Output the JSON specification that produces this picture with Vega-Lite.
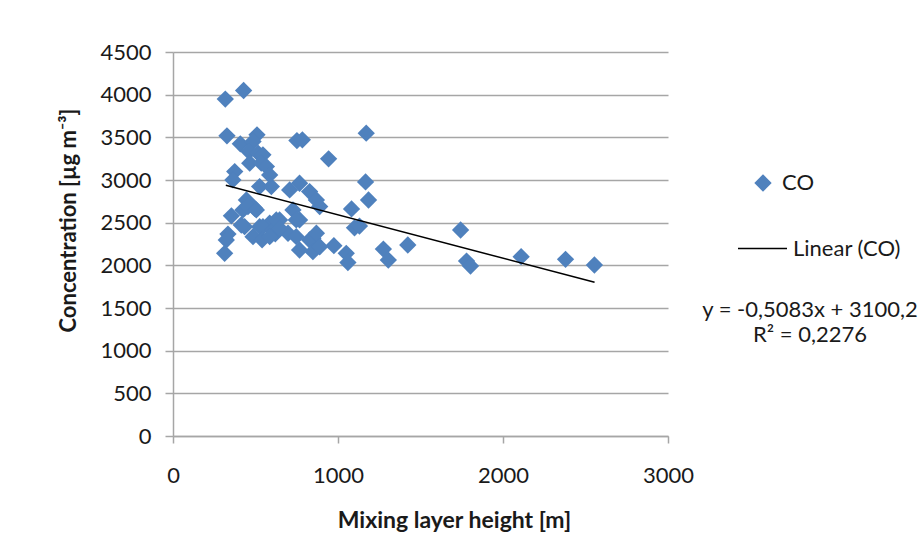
{
  "$schema": "https://vega.github.io/schema/vega-lite/v6.json",
  "width": 495,
  "height": 384,
  "autosize": "none",
  "padding": {"left": 173, "top": 52, "right": 256, "bottom": 113},
  "background": "white",
  "config": {
    "view": {"stroke": null},
    "font": "Lato",
    "legend": {
      "padding": 0,
      "labelFont": "Lato",
      "labelFontSize": 22,
      "labelColor": "#1a1a1a",
      "title": null
    }
  },
  "title": {
    "text": ["y = -0,5083x + 3100,2", "R² = 0,2276"],
    "orient": "top",
    "anchor": "start",
    "frame": "group",
    "align": "center",
    "baseline": "alphabetic",
    "dx": 637,
    "dy": 323,
    "offset": 0,
    "fontSize": 22,
    "fontWeight": "normal",
    "font": "Lato",
    "color": "#1a1a1a",
    "lineHeight": 25
  },
  "layer": [
    {
      "data": {
        "values": [
          {"series": "CO", "h": 317, "c": 3948},
          {"series": "CO", "h": 428, "c": 4049},
          {"series": "CO", "h": 327, "c": 3518},
          {"series": "CO", "h": 509, "c": 3529},
          {"series": "CO", "h": 408, "c": 3424},
          {"series": "CO", "h": 485, "c": 3451},
          {"series": "CO", "h": 751, "c": 3462},
          {"series": "CO", "h": 784, "c": 3471},
          {"series": "CO", "h": 1171, "c": 3549},
          {"series": "CO", "h": 943, "c": 3248},
          {"series": "CO", "h": 1167, "c": 2978},
          {"series": "CO", "h": 1185, "c": 2766},
          {"series": "CO", "h": 1082, "c": 2661},
          {"series": "CO", "h": 1100, "c": 2440},
          {"series": "CO", "h": 1130, "c": 2460},
          {"series": "CO", "h": 460, "c": 3333},
          {"series": "CO", "h": 515, "c": 3315},
          {"series": "CO", "h": 545, "c": 3295},
          {"series": "CO", "h": 465, "c": 3197},
          {"series": "CO", "h": 535, "c": 3197},
          {"series": "CO", "h": 566, "c": 3157},
          {"series": "CO", "h": 586, "c": 3060},
          {"series": "CO", "h": 374, "c": 3099},
          {"series": "CO", "h": 363, "c": 3001},
          {"series": "CO", "h": 525, "c": 2923},
          {"series": "CO", "h": 596, "c": 2923},
          {"series": "CO", "h": 707, "c": 2884},
          {"series": "CO", "h": 767, "c": 2962},
          {"series": "CO", "h": 828, "c": 2864},
          {"series": "CO", "h": 869, "c": 2766},
          {"series": "CO", "h": 889, "c": 2688},
          {"series": "CO", "h": 445, "c": 2766},
          {"series": "CO", "h": 424, "c": 2649},
          {"series": "CO", "h": 354, "c": 2580},
          {"series": "CO", "h": 495, "c": 2669},
          {"series": "CO", "h": 454, "c": 2688},
          {"series": "CO", "h": 505, "c": 2649},
          {"series": "CO", "h": 646, "c": 2532},
          {"series": "CO", "h": 586, "c": 2493},
          {"series": "CO", "h": 525, "c": 2453},
          {"series": "CO", "h": 545, "c": 2453},
          {"series": "CO", "h": 434, "c": 2453},
          {"series": "CO", "h": 414, "c": 2473},
          {"series": "CO", "h": 727, "c": 2649},
          {"series": "CO", "h": 767, "c": 2532},
          {"series": "CO", "h": 333, "c": 2366},
          {"series": "CO", "h": 485, "c": 2336},
          {"series": "CO", "h": 540, "c": 2300},
          {"series": "CO", "h": 606, "c": 2414},
          {"series": "CO", "h": 620, "c": 2370},
          {"series": "CO", "h": 697, "c": 2376},
          {"series": "CO", "h": 848, "c": 2317},
          {"series": "CO", "h": 975, "c": 2230},
          {"series": "CO", "h": 1275, "c": 2190},
          {"series": "CO", "h": 1305, "c": 2062},
          {"series": "CO", "h": 323, "c": 2297},
          {"series": "CO", "h": 313, "c": 2141},
          {"series": "CO", "h": 626, "c": 2532},
          {"series": "CO", "h": 586, "c": 2336},
          {"series": "CO", "h": 646, "c": 2434},
          {"series": "CO", "h": 747, "c": 2532},
          {"series": "CO", "h": 747, "c": 2336},
          {"series": "CO", "h": 767, "c": 2180},
          {"series": "CO", "h": 828, "c": 2297},
          {"series": "CO", "h": 869, "c": 2376},
          {"series": "CO", "h": 848, "c": 2160},
          {"series": "CO", "h": 889, "c": 2218},
          {"series": "CO", "h": 1050, "c": 2141},
          {"series": "CO", "h": 1060, "c": 2033},
          {"series": "CO", "h": 1423, "c": 2238},
          {"series": "CO", "h": 1743, "c": 2414},
          {"series": "CO", "h": 1779, "c": 2050},
          {"series": "CO", "h": 1803, "c": 1992},
          {"series": "CO", "h": 2110, "c": 2101},
          {"series": "CO", "h": 2379, "c": 2070},
          {"series": "CO", "h": 2554, "c": 2004}
        ]
      },
      "mark": {"type": "point", "filled": true, "size": 300, "color": "#4f81bd", "opacity": 1},
      "encoding": {
        "x": {
          "field": "h",
          "type": "quantitative",
          "scale": {"domain": [0, 3000], "nice": false, "zero": false},
          "axis": {
            "values": [0, 1000, 2000, 3000],
            "format": "d",
            "grid": false,
            "domainColor": "#a6a6a6",
            "domainWidth": 1.5,
            "tickColor": "#a6a6a6",
            "tickWidth": 1.5,
            "tickSize": 7,
            "labelFontSize": 22,
            "labelFont": "Lato",
            "labelColor": "#1a1a1a",
            "labelPadding": 22,
            "labelFlush": false,
            "labelOverlap": false,
            "labelBound": false,
            "title": "Mixing layer height [m]",
            "titleFont": "Lato",
            "titleFontSize": 23,
            "titleFontWeight": "bold",
            "titleColor": "#1a1a1a",
            "titlePadding": 23,
            "titleX": 281
          }
        },
        "y": {
          "field": "c",
          "type": "quantitative",
          "scale": {"domain": [0, 4500], "nice": false},
          "axis": {
            "values": [0, 500, 1000, 1500, 2000, 2500, 3000, 3500, 4000, 4500],
            "format": "d",
            "grid": true,
            "gridColor": "#a6a6a6",
            "gridWidth": 1.5,
            "domainColor": "#a6a6a6",
            "domainWidth": 1.5,
            "tickColor": "#a6a6a6",
            "tickWidth": 1.5,
            "tickSize": 8,
            "labelFontSize": 22,
            "labelFont": "Lato",
            "labelColor": "#1a1a1a",
            "labelPadding": 14,
            "labelOverlap": false,
            "labelBound": false,
            "title": "Concentration [µg m⁻³]",
            "titleFont": "Lato",
            "titleFontSize": 22,
            "titleFontWeight": "bold",
            "titleColor": "#1a1a1a",
            "titlePadding": 19,
            "titleY": 168
          }
        },
        "shape": {
          "field": "series",
          "type": "nominal",
          "scale": {"domain": ["CO"], "range": ["diamond"]},
          "legend": {
            "orient": "none",
            "legendX": 579,
            "legendY": 120,
            "symbolSize": 300,
            "symbolFillColor": "#4f81bd",
            "symbolStrokeWidth": 0,
            "labelOffset": 8
          }
        }
      }
    },
    {
      "data": {
        "values": [
          {"series": "Linear (CO)", "h": 320, "c": 2937.5},
          {"series": "Linear (CO)", "h": 2555, "c": 1801.5}
        ]
      },
      "mark": {"type": "line", "strokeWidth": 1.5},
      "encoding": {
        "x": {"field": "h", "type": "quantitative"},
        "y": {"field": "c", "type": "quantitative"},
        "color": {
          "field": "series",
          "type": "nominal",
          "scale": {"domain": ["Linear (CO)"], "range": ["black"]},
          "legend": {
            "orient": "none",
            "legendX": 564,
            "legendY": 171,
            "symbolType": "stroke",
            "symbolSize": 2401,
            "symbolStrokeWidth": 1.5,
            "symbolStrokeColor": "black",
            "labelOffset": 5
          }
        }
      }
    }
  ]
}
